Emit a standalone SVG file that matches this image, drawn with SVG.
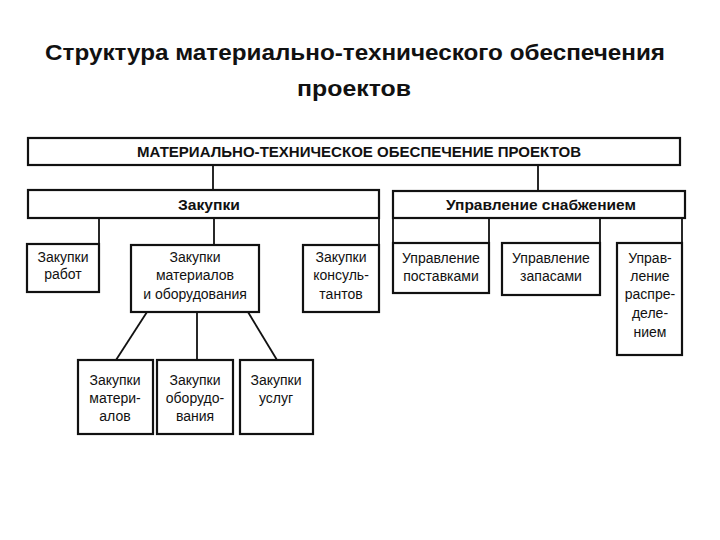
<svg xmlns="http://www.w3.org/2000/svg" width="720" height="540" viewBox="0 0 720 540">
<style>
.box{fill:#fff;stroke:#111;stroke-width:2.2}
.ln{stroke:#111;stroke-width:1.8;fill:none}
.t{font-family:"Liberation Sans",Arial,sans-serif;font-size:14px;fill:#111;text-anchor:middle}
.b{font-weight:bold}
.title{font-family:"Liberation Sans",Arial,sans-serif;font-size:22px;font-weight:bold;fill:#111;text-anchor:middle}
</style>
<rect width="720" height="540" fill="#fff"/>
<text class="title" x="355" y="60" textLength="620" lengthAdjust="spacingAndGlyphs">Структура материально-технического обеспечения</text>
<text class="title" x="354" y="96" textLength="114" lengthAdjust="spacingAndGlyphs">проектов</text>
<g id="connectors">
<line class="ln" x1="213" y1="165" x2="213" y2="190"/>
<line class="ln" x1="538" y1="165" x2="538" y2="191"/>
<line class="ln" x1="99" y1="218" x2="99" y2="244"/>
<line class="ln" x1="214" y1="218" x2="214" y2="245"/>
<line class="ln" x1="379" y1="218" x2="379" y2="245"/>
<line class="ln" x1="393" y1="218" x2="393" y2="243"/>
<line class="ln" x1="489" y1="218" x2="489" y2="243"/>
<line class="ln" x1="600" y1="218" x2="600" y2="243"/>
<line class="ln" x1="682" y1="218" x2="682" y2="243"/>
<line class="ln" x1="147" y1="312" x2="116" y2="360"/>
<line class="ln" x1="197" y1="312" x2="197" y2="360"/>
<line class="ln" x1="248" y1="312" x2="277" y2="360"/>
</g>
<g id="n-root"><rect class="box" x="28" y="138" width="652" height="27"/>
<text class="t b" x="359" y="157" font-size="13" textLength="444" lengthAdjust="spacingAndGlyphs">МАТЕРИАЛЬНО-ТЕХНИЧЕСКОЕ ОБЕСПЕЧЕНИЕ  ПРОЕКТОВ</text></g>
<g id="n-zakupki"><rect class="box" x="28" y="190" width="351" height="28"/>
<text class="t b" x="209" y="210" textLength="62" lengthAdjust="spacingAndGlyphs">Закупки</text></g>
<g id="n-upr-snab"><rect class="box" x="393" y="191" width="292" height="27"/>
<text class="t b" x="541" y="210" textLength="190" lengthAdjust="spacingAndGlyphs">Управление снабжением</text></g>
<g id="n-zak-rabot"><rect class="box" x="27" y="244" width="72" height="48"/>
<text class="t" x="63" y="262">Закупки</text><text class="t" x="63" y="279">работ</text></g>
<g id="n-zak-mat-obor"><rect class="box" x="131" y="245" width="128" height="67"/>
<text class="t" x="195" y="262">Закупки</text><text class="t" x="195" y="280">материалов</text><text class="t" x="195" y="299">и оборудования</text></g>
<g id="n-zak-kons"><rect class="box" x="303" y="245" width="76" height="67"/>
<text class="t" x="341" y="262">Закупки</text><text class="t" x="341" y="280">консуль-</text><text class="t" x="341" y="299">тантов</text></g>
<g id="n-upr-post"><rect class="box" x="393" y="243" width="96" height="50"/>
<text class="t" x="441" y="263">Управление</text><text class="t" x="441" y="281">поставками</text></g>
<g id="n-upr-zap"><rect class="box" x="502" y="243" width="98" height="52"/>
<text class="t" x="551" y="263">Управление</text><text class="t" x="551" y="281">запасами</text></g>
<g id="n-upr-raspr"><rect class="box" x="617" y="243" width="65" height="112"/>
<text class="t" x="650" y="263">Управ-</text><text class="t" x="650" y="281">ление</text><text class="t" x="650" y="299">распре-</text><text class="t" x="650" y="318">деле-</text><text class="t" x="650" y="337">нием</text></g>
<g id="n-zak-materialov"><rect class="box" x="78" y="360" width="75" height="74"/>
<text class="t" x="115" y="385">Закупки</text><text class="t" x="115" y="403">матери-</text><text class="t" x="115" y="421">алов</text></g>
<g id="n-zak-oborud"><rect class="box" x="157" y="360" width="76" height="74"/>
<text class="t" x="195" y="385">Закупки</text><text class="t" x="195" y="403">оборудо-</text><text class="t" x="195" y="421">вания</text></g>
<g id="n-zak-uslug"><rect class="box" x="240" y="360" width="73" height="74"/>
<text class="t" x="276" y="385">Закупки</text><text class="t" x="276" y="403">услуг</text></g>
</svg>
